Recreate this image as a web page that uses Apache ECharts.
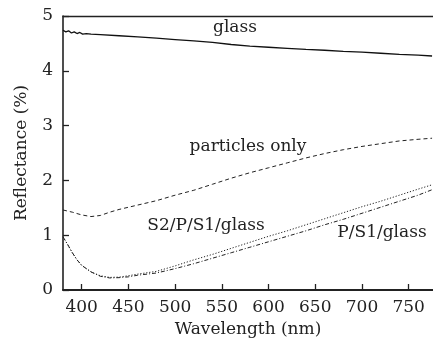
<!DOCTYPE html>
<html><head><meta charset="utf-8">
<script src="https://cdn.jsdelivr.net/npm/echarts@6/dist/echarts.min.js"></script>
<style>html,body{margin:0;padding:0;background:#fff}#c{width:433px;height:351px}</style>
</head><body><div id="c"></div>
<script>
const xTicks = [400, 450, 500, 550, 600, 650, 700, 750];
const yTicks = [0, 1, 2, 3, 4, 5];

const glassX = [380,383,386,389,392,395,398,401,405,410,420,440,460,480,500,520,540,560,580,600,620,640,660,680,700,720,740,760,775];
const glassY = [4.74,4.71,4.73,4.69,4.71,4.68,4.70,4.67,4.68,4.67,4.66,4.64,4.62,4.595,4.57,4.545,4.52,4.48,4.45,4.43,4.41,4.39,4.375,4.355,4.34,4.32,4.30,4.285,4.27];

const partX = [380,390,400,410,420,430,440,460,480,500,520,540,560,580,600,620,640,660,680,700,720,740,760,775];
const partY = [1.46,1.42,1.37,1.34,1.36,1.42,1.47,1.55,1.63,1.73,1.82,1.93,2.04,2.14,2.23,2.32,2.41,2.49,2.56,2.62,2.67,2.72,2.75,2.77];

const s2X = [380,385,390,395,400,410,420,430,440,450,460,480,500,520,540,560,580,600,620,640,660,680,700,720,740,760,775];
const s2Y = [0.97,0.83,0.68,0.55,0.45,0.33,0.26,0.23,0.235,0.26,0.29,0.34,0.44,0.55,0.65,0.76,0.87,0.98,1.08,1.19,1.30,1.41,1.52,1.62,1.73,1.84,1.92];

const psX = [380,385,390,395,400,410,420,430,440,450,460,480,500,520,540,560,580,600,620,640,660,680,700,720,740,760,775];
const psY = [0.97,0.83,0.68,0.55,0.45,0.33,0.25,0.22,0.225,0.24,0.27,0.31,0.39,0.48,0.58,0.68,0.78,0.88,0.98,1.08,1.19,1.29,1.40,1.51,1.62,1.73,1.83];

const labels = [
  {text: 'glass', x: 235, y: 28},
  {text: 'particles only', x: 248, y: 147},
  {text: 'S2/P/S1/glass', x: 206, y: 226},
  {text: 'P/S1/glass', x: 382, y: 233}
];

const zip = (xs, ys) => xs.map((x, i) => [x, ys[i]]);
const FONT = 'DejaVu Serif';
const INK = '#222';

const chart = echarts.init(document.getElementById('c'), null, {renderer: 'canvas'});
chart.setOption({
  animation: false,
  backgroundColor: '#fff',
  grid: {left: 63, top: 16, right: 0, bottom: 61, show: false},
  xAxis: [{
    type: 'value', min: 380, max: 776,
    name: 'Wavelength (nm)', nameLocation: 'middle', nameGap: 31,
    nameTextStyle: {fontFamily: FONT, fontSize: 17, color: INK},
    axisLine: {show: true, lineStyle: {color: INK, width: 2}},
    axisTick: {show: true, inside: true, length: 6, customValues: xTicks, lineStyle: {color: INK, width: 1.3}},
    axisLabel: {fontFamily: FONT, fontSize: 17, color: INK, margin: 9, customValues: xTicks},
    splitLine: {show: false}
  }, {
    type: 'value', min: 380, max: 776, position: 'top',
    axisLine: {show: true, onZero: false, lineStyle: {color: INK, width: 1.4}},
    axisTick: {show: false}, axisLabel: {show: false}, splitLine: {show: false}
  }],
  yAxis: {
    type: 'value', min: 0, max: 5, interval: 1,
    name: 'Reflectance (%)', nameLocation: 'middle', nameGap: 33,
    nameTextStyle: {fontFamily: FONT, fontSize: 17, color: INK},
    axisLine: {show: true, lineStyle: {color: INK, width: 1.6}},
    axisTick: {show: true, inside: true, length: 6, lineStyle: {color: INK, width: 1.3}},
    axisLabel: {fontFamily: FONT, fontSize: 17, color: INK, margin: 10, formatter: v => yTicks.includes(v) ? String(v) : ''},
    splitLine: {show: false}
  },
  series: [
    {type: 'line', data: zip(glassX, glassY), symbol: 'none', lineStyle: {color: '#111', width: 1.3, type: 'solid'}},
    {type: 'line', data: zip(partX, partY), symbol: 'none', lineStyle: {color: '#222', width: 1, type: [4, 3]}},
    {type: 'line', data: zip(s2X, s2Y), symbol: 'none', lineStyle: {color: '#222', width: 1, type: [1.2, 1.8]}},
    {type: 'line', data: zip(psX, psY), symbol: 'none', lineStyle: {color: '#222', width: 1, type: [4, 2, 1, 2]}}
  ],
  graphic: labels.map(l => ({
    type: 'text', x: l.x, y: l.y,
    style: {text: l.text, fontFamily: FONT, fontSize: 17, fill: INK, align: 'center', verticalAlign: 'middle'}
  }))
});
</script></body></html>
